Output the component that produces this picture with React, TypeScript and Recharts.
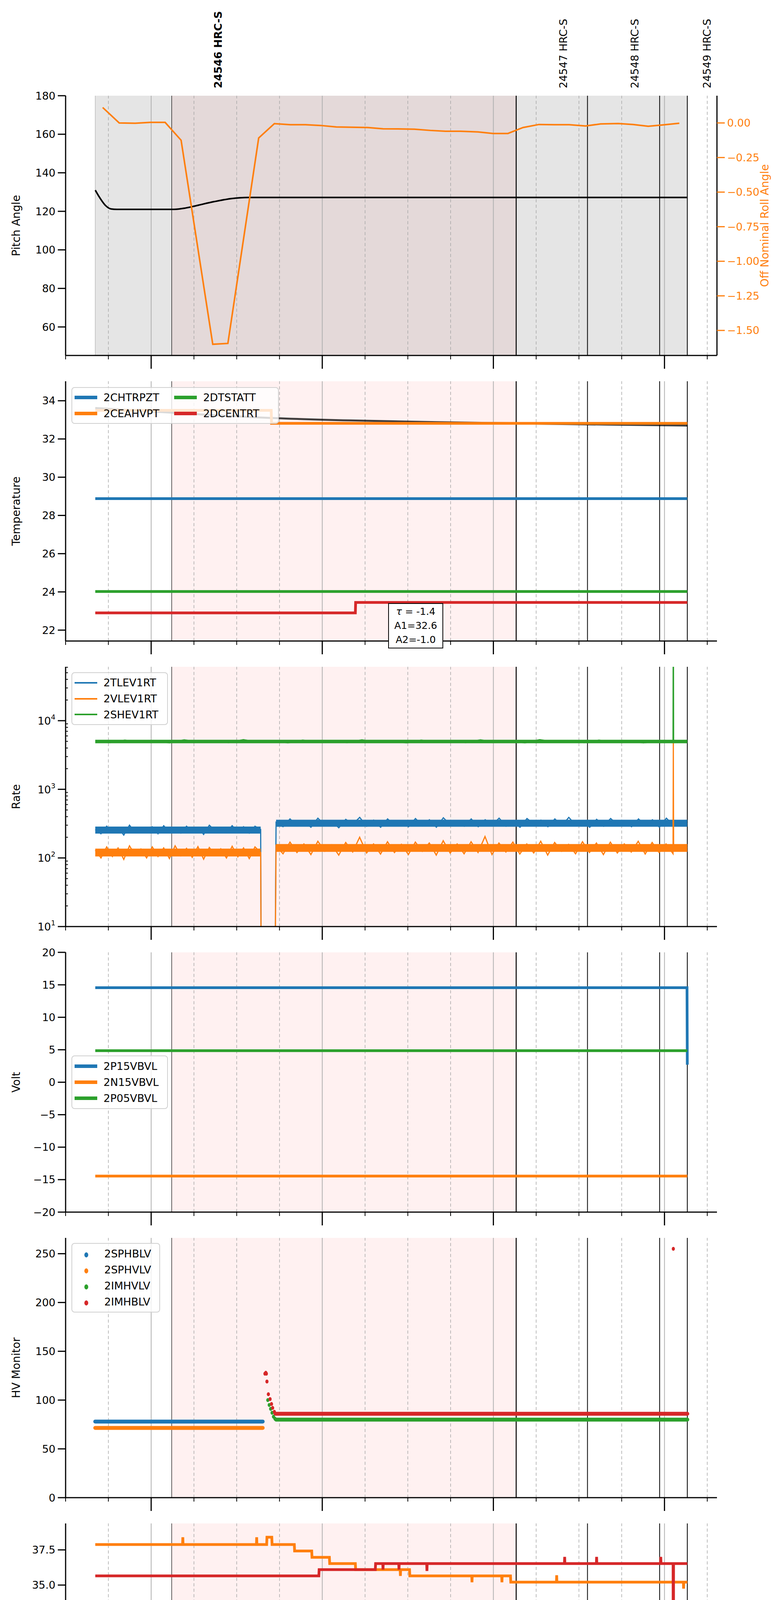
import React from 'react';
import { LineChart, Line, XAxis, YAxis, ReferenceArea, ReferenceLine, Scatter } from 'recharts';

const FONT = 'DejaVu Sans, sans-serif';
const C = { blue: '#1f77b4', orange: '#ff7f0e', green: '#2ca02c', red: '#d62728' };
const X_DOMAIN = [0, 228.4];
const X_TICKS = [0, 15, 30, 45, 60, 75, 90, 105, 120, 135, 150, 165, 180, 195, 210, 225];
const HOUR_LABELS: Record<number, string> = { 30: '20h', 90: '21h', 150: '22h', 210: '23h' };
const OBS_LINES = [158, 183, 208.3, 218];
const OBS_START = 37.2;
const DATA_START = 10.4;
const DATA_END = 218;
const OBSIDS = [
  { t: 53.4, label: '24546 HRC-S', bold: true },
  { t: 174.5, label: '24547 HRC-S', bold: false },
  { t: 199.5, label: '24548 HRC-S', bold: false },
  { t: 224.8, label: '24549 HRC-S', bold: false },
];

// Panel 1
const PITCH: [number, number][] = [[10.4, 131], [12, 127], [14, 123], [16, 121.2], [18, 121], [38, 121], [42, 121.7], [46, 123], [52, 125], [58, 126.6], [64, 127.2], [218, 127.2]];
const ROLL: [number, number][] = [[13.0, 0.112], [18.8, 0], [24.4, -0.002], [29.7, 0.004], [34.9, 0.004], [40.5, -0.125], [51.6, -1.6], [56.9, -1.594], [67.7, -0.109], [73.2, -0.005], [78.8, -0.013], [84.1, -0.013], [89.3, -0.018], [94.9, -0.029], [106.0, -0.033], [111.3, -0.042], [116.5, -0.043], [122.3, -0.045], [127.9, -0.054], [133.2, -0.06], [138.5, -0.06], [144.6, -0.065], [149.9, -0.076], [155.1, -0.076], [160.4, -0.033], [166.0, -0.011], [171.3, -0.013], [176.6, -0.013], [182.3, -0.022], [187.6, -0.007], [193.8, -0.004], [199.0, -0.011], [204.3, -0.024], [209.5, -0.014], [215.2, -0.002]];

// Panel 2
const CHTRPZT: [number, number][] = [[10.4, 28.88], [218, 28.88]];
const DTSTATT: [number, number][] = [[10.4, 24.02], [218, 24.02]];
const DCENTRT: [number, number][] = [[10.4, 22.9], [101.6, 22.9], [101.7, 23.45], [218, 23.45]];
const CEAHVPT: [number, number][] = [[10.4, 33.5], [72.1, 33.5], [72.2, 32.82], [218, 32.82]];
const FIT: [number, number][] = [[10.4, 33.62], [40, 33.35], [72, 33.1], [100, 32.97], [130, 32.88], [158, 32.82], [190, 32.75], [218, 32.7]];

// Panel 3 (rates, hand-read noise)
const TL_PRE = [260, 225, 290, 240, 275, 215, 300, 235, 270, 250, 285, 225, 295, 240, 265, 230, 290, 245, 280, 220, 300, 250, 275, 235, 295, 240, 285, 230, 290, 260];
const TL_POST = [330, 285, 370, 295, 350, 280, 380, 300, 345, 275, 365, 310, 390, 290, 355, 280, 370, 300, 340, 285, 375, 295, 360, 280, 385, 305, 350, 290, 370, 285, 360, 300, 380, 290, 345, 280, 375, 310, 355, 285, 370, 295, 390, 300, 350, 280, 365, 290, 375, 305, 345, 285, 370, 295, 360, 280, 380, 300, 350, 310];
const VL_PRE = [130, 100, 145, 105, 140, 95, 150, 110, 135, 100, 145, 105, 140, 98, 150, 108, 138, 102, 146, 96, 142, 110, 136, 100, 148, 104, 140, 98, 145, 120];
const VL_POST = [150, 115, 170, 120, 160, 112, 175, 125, 155, 110, 168, 122, 200, 118, 160, 114, 172, 120, 158, 112, 170, 125, 165, 110, 178, 118, 160, 115, 172, 120, 205, 112, 165, 122, 170, 114, 160, 118, 175, 110, 168, 125, 158, 115, 172, 120, 165, 112, 170, 118, 160, 122, 175, 114, 168, 120, 160, 115, 170, 140];
const SH_VALS = [5000, 4800, 5200, 4850, 5150, 4750, 5250, 4900, 5100, 4800, 5300, 4850, 5150, 4750, 5200, 4900, 5050, 4800, 5250, 4850, 5100, 4750, 5200, 4900, 5150, 4800, 5250, 4850, 5100, 4750, 5300, 4900, 5150, 4800, 5200, 4850, 5100, 4750, 5050, 5000];
// band centres of the noisy rates
const TL_BAND: [number, number][] = [[10.4, 255], [68.4, 255]];
const TL_BAND2: [number, number][] = [[73.8, 320], [218, 320]];
const VL_BAND: [number, number][] = [[10.4, 120], [68.4, 120]];
const VL_BAND2: [number, number][] = [[73.8, 140], [218, 140]];
const SH_BAND: [number, number][] = [[10.4, 4980], [218, 4980]];
const RATE_TICKS = [10, 20, 30, 40, 50, 60, 70, 80, 90, 100, 200, 300, 400, 500, 600, 700, 800, 900, 1000, 2000, 3000, 4000, 5000, 6000, 7000, 8000, 9000, 10000, 20000, 30000, 40000, 50000, 60000];

// Panel 4
const P15: [number, number][] = [[10.4, 14.55], [217.9, 14.55], [218, 2.7]];
const N15: [number, number][] = [[10.4, -14.45], [218, -14.45]];
const P05: [number, number][] = [[10.4, 4.85], [218, 4.85]];

// Panel 5
const SPHBLV: [number, number][] = [[10.4, 78], [69.1, 78]];
const SPHVLV: [number, number][] = [[10.4, 71.5], [69.1, 71.5]];
const IMHVLV_BAND: [number, number][] = [[73.8, 80], [218, 80]];
const IMHVLV_PTS: [number, number][] = [[70.9, 100], [71.4, 95], [71.9, 91], [72.4, 87], [72.9, 83], [73.4, 81]];
const IMHBLV_BAND: [number, number][] = [[73.6, 86], [218, 86]];
const IMHBLV_PTS: [number, number][] = [[69.9, 127], [70.2, 128], [70.4, 127], [70.6, 119], [71.1, 106], [71.7, 101], [72.2, 96], [72.6, 92], [73.2, 88], [213.1, 255]];

// Panel 6
const SPINATM: [number, number][] = [[10.4, 22.4], [218, 22.4]];
const IMINATM: [number, number][] = [[10.4, 23.13], [218, 23.13]];
const SPHVATM_STEPS: [number, number][] = [[10.4, 37.88], [70.5, 37.88], [70.6, 38.4], [72.3, 38.4], [72.4, 37.88], [80.2, 37.88], [80.3, 37.42], [86.3, 37.42], [86.4, 36.97], [92.5, 36.97], [92.6, 36.53], [101.6, 36.53], [101.7, 36.1], [120.6, 36.1], [120.7, 35.65], [156.0, 35.65], [156.1, 35.21], [218, 35.21]];
const SPHVATM_SPIKES: [number, number][] = [[41.1, 38.4], [67.0, 38.4], [117.4, 35.65], [142.5, 35.2], [153.0, 35.2], [172.2, 35.7], [216.7, 34.75]];
const IMHVATM_STEPS: [number, number][] = [[10.4, 35.65], [88.8, 35.65], [88.9, 36.1], [108.6, 36.1], [108.7, 36.53], [218, 36.53]];
const IMHVATM_SPIKES: [number, number][] = [[111.3, 36.1], [116.9, 36.1], [126.7, 36.0], [175.0, 37.0], [186.2, 37.0], [208.7, 37.0], [213.1, 10]];

// Panel 7
const FHTRMZT: [number, number][] = [[10.4, 27.0], [131.4, 27.0], [131.8, 26.4], [134.5, 26.4], [134.9, 27.0], [135.3, 26.4], [218, 26.4]];
const FRADPYT: [number, number][] = [[10.4, 22.36], [44.9, 22.36], [45.0, 21.8], [218, 21.8]];
const FEPRATM: [number, number][] = [[10.4, 27.76], [213.0, 27.76], [213.1, 10], [213.2, 27.76], [218, 27.76]];
const FE00_STEPS: [number, number][] = [[10.4, 25.96], [51.6, 25.96], [51.7, 25.63], [218, 25.63]];
const FE00_SPIKES: [number, number][] = [[10.9, 25.6], [16.5, 25.6], [21.2, 25.6], [23.3, 24.95], [26.5, 25.6], [32.6, 26.7], [36.0, 26.35], [39.8, 24.95], [42.8, 25.3], [47.4, 25.3], [55.6, 26.0], [59.5, 26.0], [62.1, 26.0], [81.8, 26.35], [87.2, 26.35], [125.8, 26.0], [136.2, 26.0], [145.7, 26.35], [155.8, 26.7], [170.1, 25.3], [175.9, 26.35], [178.1, 25.3], [184.6, 25.3], [186.4, 24.6], [194.5, 25.3], [198.1, 24.95], [206.0, 26.0], [207.6, 24.6], [213.1, 10]];

const pts = (a: [number, number][]) => a.map(([t, v]) => ({ t, v }));
const spread = (t0: number, t1: number, vals: number[]) => vals.map((v, i) => ({ t: t0 + ((t1 - t0) * i) / (vals.length - 1), v }));
const withSpikes = (steps: [number, number][], spikes: [number, number][]) => {
  const base = (t: number) => { let v = steps[0][1]; for (const [tt, vv] of steps) if (tt <= t) v = vv; return v; };
  const all = [...steps.map(([t, v]) => ({ t, v }))];
  spikes.forEach(([t, v]) => { const b = base(t); all.push({ t: t - 0.08, v: b }, { t, v }, { t: t + 0.08, v: b }); });
  return all.sort((a, b) => a.t - b.t);
};

const TL_DATA = [...spread(10.4, 68.4, TL_PRE), { t: 68.6, v: 1 }, { t: 73.4, v: 1 }, ...spread(73.8, 218, TL_POST)];
const VL_DATA = [...spread(10.4, 68.4, VL_PRE), { t: 68.6, v: 1 }, { t: 73.4, v: 1 }, ...spread(73.8, 213.0, VL_POST.slice(0, 58)), { t: 213.1, v: 5000 }, { t: 213.2, v: 150 }, { t: 218, v: 140 }];
const SH_DATA = [...spread(10.4, 213.0, SH_VALS), { t: 213.1, v: 1e6 }, { t: 213.2, v: 5000 }, { t: 218, v: 4950 }];

const XTick = (props: any) => {
  const { x, y, payload, labels } = props;
  const t = payload.value;
  const hour = HOUR_LABELS[t] !== undefined;
  return (
    <g>
      <line x1={x} x2={x} y1={y} y2={y + (hour ? 34 : 10)} stroke="#000" strokeWidth={hour ? 3 : 2} />
      {labels && (hour
        ? <text x={x} y={y + 66} textAnchor="middle" fontSize={28} fontFamily={FONT}>{HOUR_LABELS[t]}</text>
        : <text x={x} y={y + 30} textAnchor="middle" fontSize={18} fontFamily={FONT}>{(30 + t) % 60}</text>)}
    </g>
  );
};

const LogTick = (props: any) => {
  const { x, y, payload } = props;
  const v = payload.value;
  const e = Math.log10(v);
  const major = Math.abs(e - Math.round(e)) < 1e-9;
  return (
    <g>
      {major
        ? <line x1={x - 20} x2={x} y1={y} y2={y} stroke="#000" strokeWidth={3} />
        : <line x1={x} x2={x + 6} y1={y} y2={y} stroke="#000" strokeWidth={2} />}
      {major && <text x={x - 26} y={y + 10} textAnchor="end" fontSize={27} fontFamily={FONT}>10<tspan dy={-13} fontSize={18}>{Math.round(e)}</tspan></text>}
    </g>
  );
};

function background(panel1: boolean) {
  const els: any[] = [];
  if (panel1) els.push(<ReferenceArea key="gray" x1={DATA_START} x2={DATA_END} fill="#e5e5e5" fillOpacity={1} stroke="none" />);
  els.push(<ReferenceArea key="pink" x1={OBS_START} x2={OBS_LINES[0]} fill={panel1 ? '#e4d9d9' : '#fff1f1'} fillOpacity={1} stroke="none" />);
  X_TICKS.forEach((t) => {
    const hour = HOUR_LABELS[t] !== undefined;
    els.push(<ReferenceLine key={'g' + t} x={t} stroke={hour ? '#b0b0b0' : '#a8a8a8'} strokeWidth={hour ? 2 : 1.5} strokeDasharray={hour ? undefined : '8 6'} />);
  });
  if (panel1) els.push(<ReferenceLine key="ds" x={DATA_START} stroke="#c8c8c8" strokeWidth={2} />);
  els.push(<ReferenceLine key="os" x={OBS_START} stroke="#000" strokeWidth={1.2} />);
  OBS_LINES.forEach((t, i) => els.push(<ReferenceLine key={'o' + t} x={t} stroke="#000" strokeWidth={i === 0 ? 2.5 : 2} />));
  return els;
}

const yLabel = (text: string, color = '#000', xPos = 51) => ({
  content: (p: any) => {
    const vb = p.viewBox;
    const cy = vb.y + vb.height / 2;
    return <text x={xPos} y={cy} transform={`rotate(-90 ${xPos} ${cy})`} textAnchor="middle" fontSize={28} fontFamily={FONT} fill={color}>{text}</text>;
  },
});

type LegendItem = { name: string; color: string; dot?: boolean; thin?: boolean };
const LegendBox = ({ items, left, top, width, height, cols = 1 }: { items: LegendItem[]; left: number; top: number; width: number; height: number; cols?: number }) => (
  <div style={{ position: 'absolute', left, top, width, height, boxSizing: 'border-box', background: 'rgba(255,255,255,0.8)', border: '2px solid #d0d0d0', borderRadius: 8, display: 'grid', gridTemplateColumns: `repeat(${cols}, auto)`, gridAutoFlow: cols > 1 ? 'column' : 'row', gridTemplateRows: cols > 1 ? `repeat(${Math.ceil(items.length / cols)}, 1fr)` : undefined, alignContent: 'space-evenly', padding: '4px 10px 4px 6px', fontFamily: FONT, fontSize: 27, zIndex: 5 }}>
    {items.map((it) => (
      <div key={it.name} style={{ display: 'flex', alignItems: 'center', height: 40 }}>
        {it.dot
          ? <span style={{ display: 'inline-block', width: 60, textAlign: 'center' }}><span style={{ display: 'inline-block', width: 10, height: 13, borderRadius: '50%', background: it.color }} /></span>
          : <span style={{ display: 'inline-block', width: 58, height: it.thin ? 4 : 9, background: it.color }} />}
        <span style={{ marginLeft: 16 }}>{it.name}</span>
      </div>
    ))}
  </div>
);

const PLOT_H = 665;
const Panel = ({ top, marginTop = 20, axisH = 45, bottomLabels = false, right = false, children }: any) => (
  <div style={{ position: 'absolute', left: 0, top: top - marginTop }}>
    <LineChart width={2000} height={marginTop + PLOT_H + axisH} margin={{ top: marginTop, right: right ? 0 : 164, left: 0, bottom: 0 }}>
      <XAxis dataKey="t" type="number" domain={X_DOMAIN} allowDataOverflow ticks={X_TICKS} interval={0} height={axisH} tickSize={0} tickMargin={0} tickLine={false} axisLine={{ stroke: '#000', strokeWidth: 3 }} tick={<XTick labels={bottomLabels} />} />
      <XAxis xAxisId="top" orientation="top" dataKey="t" type="number" domain={X_DOMAIN} height={0} tick={false} tickLine={false} axisLine={{ stroke: '#000', strokeWidth: 3 }} />
      {children}
    </LineChart>
  </div>
);

const yAxisCommon = { width: 168, tickSize: 20, tickMargin: 6, tick: { fontSize: 27, fontFamily: FONT, fill: '#000' }, tickLine: { stroke: '#000', strokeWidth: 3 }, axisLine: { stroke: '#000', strokeWidth: 3 }, allowDataOverflow: true };
const rightFrame = <YAxis key="rf" yAxisId="rf" orientation="right" width={0} tick={false} tickLine={false} axisLine={{ stroke: '#000', strokeWidth: 3 }} />;

export default function App() {
  const lw = 7;
  return (
    <div style={{ position: 'relative', marginLeft: -8, marginTop: -8, width: 2000, height: 5400, background: '#fff', fontFamily: FONT }}>
      {/* Panel 1 */}
      <Panel top={245} marginTop={245} right>
        <YAxis yAxisId="p" {...yAxisCommon} domain={[45.2, 180]} ticks={[60, 80, 100, 120, 140, 160, 180]} label={yLabel('Pitch Angle')} />
        <YAxis yAxisId="r" orientation="right" {...yAxisCommon} width={164} domain={[-1.681, 0.197]} ticks={[0, -0.25, -0.5, -0.75, -1, -1.25, -1.5]} tickFormatter={(v: number) => v.toFixed(2).replace('-', '\u2212')} tick={{ fontSize: 27, fontFamily: FONT, fill: C.orange }} tickLine={{ stroke: C.orange, strokeWidth: 3 }} label={yLabel('Off Nominal Roll Angle', C.orange, 1968)} />
        {background(true).map((e) => React.cloneElement(e, { yAxisId: 'p' }))}
        {OBSIDS.map((o) => (
          <ReferenceLine key={o.label} yAxisId="p" x={o.t} stroke="none" label={{ content: (p: any) => <text transform={`translate(${p.viewBox.x + 10},${p.viewBox.y - 19}) rotate(-90)`} fontSize={27} fontWeight={o.bold ? 'bold' : 'normal'} fontFamily={FONT}>{o.label}</text> }} />
        ))}
        <Line yAxisId="p" data={pts(PITCH)} dataKey="v" stroke="#000" strokeWidth={4} dot={false} isAnimationActive={false} type="monotone" />
        <Line yAxisId="r" data={pts(ROLL)} dataKey="v" stroke={C.orange} strokeWidth={4} dot={false} isAnimationActive={false} />
      </Panel>

      {/* Panel 2 */}
      <Panel top={976}>
        <YAxis {...yAxisCommon} domain={[21.43, 35.02]} ticks={[22, 24, 26, 28, 30, 32, 34]} label={yLabel('Temperature')} />
        {rightFrame}
        {background(false)}
        <Line data={pts(FIT)} dataKey="v" stroke="#000" strokeWidth={5} strokeOpacity={0.75} dot={false} isAnimationActive={false} type="monotone" />
        <Line data={pts(CHTRPZT)} dataKey="v" stroke={C.blue} strokeWidth={lw} dot={false} isAnimationActive={false} />
        <Line data={pts(CEAHVPT)} dataKey="v" stroke={C.orange} strokeWidth={lw} dot={false} isAnimationActive={false} />
        <Line data={pts(DTSTATT)} dataKey="v" stroke={C.green} strokeWidth={lw} dot={false} isAnimationActive={false} />
        <Line data={pts(DCENTRT)} dataKey="v" stroke={C.red} strokeWidth={lw} dot={false} isAnimationActive={false} />
      </Panel>
      <LegendBox left={183} top={991} width={531} height={94} cols={2} items={[{ name: '2CHTRPZT', color: C.blue }, { name: '2CEAHVPT', color: C.orange }, { name: '2DTSTATT', color: C.green }, { name: '2DCENTRT', color: C.red }]} />
      <div style={{ position: 'absolute', left: 994, top: 1544, width: 141, height: 116, boxSizing: 'border-box', border: '2px solid #000', background: '#fff', fontSize: 25, lineHeight: '36px', textAlign: 'center', paddingTop: 2, zIndex: 6 }}>
        <div><i>τ</i> = -1.4</div><div>A1=32.6</div><div>A2=-1.0</div>
      </div>

      {/* Panel 3 */}
      <Panel top={1707}>
        <YAxis {...yAxisCommon} scale="log" domain={[10, 61000]} ticks={RATE_TICKS} interval={0} tickSize={0} tickMargin={0} tickLine={false} tick={<LogTick />} label={yLabel('Rate')} />
        {rightFrame}
        {background(false)}
        <Line data={pts(TL_BAND)} dataKey="v" stroke={C.blue} strokeWidth={18} dot={false} isAnimationActive={false} />
        <Line data={pts(TL_BAND2)} dataKey="v" stroke={C.blue} strokeWidth={18} dot={false} isAnimationActive={false} />
        <Line data={TL_DATA} dataKey="v" stroke={C.blue} strokeWidth={3} dot={false} isAnimationActive={false} />
        <Line data={pts(VL_BAND)} dataKey="v" stroke={C.orange} strokeWidth={20} dot={false} isAnimationActive={false} />
        <Line data={pts(VL_BAND2)} dataKey="v" stroke={C.orange} strokeWidth={20} dot={false} isAnimationActive={false} />
        <Line data={VL_DATA} dataKey="v" stroke={C.orange} strokeWidth={3} dot={false} isAnimationActive={false} />
        <Line data={pts(SH_BAND)} dataKey="v" stroke={C.green} strokeWidth={9} dot={false} isAnimationActive={false} />
        <Line data={SH_DATA} dataKey="v" stroke={C.green} strokeWidth={3} dot={false} isAnimationActive={false} />
      </Panel>
      <LegendBox left={183} top={1721} width={247} height={135} items={[{ name: '2TLEV1RT', color: C.blue, thin: true }, { name: '2VLEV1RT', color: C.orange, thin: true }, { name: '2SHEV1RT', color: C.green, thin: true }]} />

      {/* Panel 4 */}
      <Panel top={2438}>
        <YAxis {...yAxisCommon} domain={[-20, 20]} ticks={[-20, -15, -10, -5, 0, 5, 10, 15, 20]} tickFormatter={(v: number) => String(v).replace('-', '\u2212')} label={yLabel('Volt')} />
        {rightFrame}
        {background(false)}
        <Line data={pts(P15)} dataKey="v" stroke={C.blue} strokeWidth={lw} dot={false} isAnimationActive={false} />
        <Line data={pts(N15)} dataKey="v" stroke={C.orange} strokeWidth={lw} dot={false} isAnimationActive={false} />
        <Line data={pts(P05)} dataKey="v" stroke={C.green} strokeWidth={lw} dot={false} isAnimationActive={false} />
      </Panel>
      <LegendBox left={183} top={2702} width={247} height={137} items={[{ name: '2P15VBVL', color: C.blue }, { name: '2N15VBVL', color: C.orange }, { name: '2P05VBVL', color: C.green }]} />

      {/* Panel 5 */}
      <Panel top={3169}>
        <YAxis {...yAxisCommon} domain={[0, 266.2]} ticks={[0, 50, 100, 150, 200, 250]} label={yLabel('HV Monitor')} />
        {rightFrame}
        {background(false)}
        <Line data={pts(SPHBLV)} dataKey="v" stroke={C.blue} strokeWidth={10} strokeLinecap="round" dot={false} isAnimationActive={false} />
        <Line data={pts(SPHVLV)} dataKey="v" stroke={C.orange} strokeWidth={10} strokeLinecap="round" dot={false} isAnimationActive={false} />
        <Line data={pts(IMHVLV_BAND)} dataKey="v" stroke={C.green} strokeWidth={10} strokeLinecap="round" dot={false} isAnimationActive={false} />
        <Scatter data={pts(IMHVLV_PTS)} dataKey="v" fill={C.green} shape={(p: any) => <ellipse cx={p.cx} cy={p.cy} rx={4} ry={5} fill={C.green} />} isAnimationActive={false} />
        <Line data={pts(IMHBLV_BAND)} dataKey="v" stroke={C.red} strokeWidth={10} strokeLinecap="round" dot={false} isAnimationActive={false} />
        <Scatter data={pts(IMHBLV_PTS)} dataKey="v" fill={C.red} shape={(p: any) => <ellipse cx={p.cx} cy={p.cy} rx={4} ry={5} fill={C.red} />} isAnimationActive={false} />
      </Panel>
      <LegendBox left={183} top={3182} width={227} height={178} items={[{ name: '2SPHBLV', color: C.blue, dot: true }, { name: '2SPHVLV', color: C.orange, dot: true }, { name: '2IMHVLV', color: C.green, dot: true }, { name: '2IMHBLV', color: C.red, dot: true }]} />

      {/* Panel 6 */}
      <Panel top={3900}>
        <YAxis {...yAxisCommon} domain={[20.92, 39.38]} ticks={[22.5, 25, 27.5, 30, 32.5, 35, 37.5]} tickFormatter={(v: number) => v.toFixed(1)} label={yLabel('Detector Temp')} />
        {rightFrame}
        {background(false)}
        <Line data={pts(SPINATM)} dataKey="v" stroke={C.blue} strokeWidth={lw} dot={false} isAnimationActive={false} />
        <Line data={withSpikes(SPHVATM_STEPS, SPHVATM_SPIKES)} dataKey="v" stroke={C.orange} strokeWidth={lw} dot={false} isAnimationActive={false} />
        <Line data={pts(IMINATM)} dataKey="v" stroke={C.green} strokeWidth={lw} dot={false} isAnimationActive={false} />
        <Line data={withSpikes(IMHVATM_STEPS, IMHVATM_SPIKES)} dataKey="v" stroke={C.red} strokeWidth={lw} dot={false} isAnimationActive={false} />
      </Panel>
      <LegendBox left={183} top={4143} width={250} height={178} items={[{ name: '2SPINATM', color: C.blue }, { name: '2SPHVATM', color: C.orange }, { name: '2IMINATM', color: C.green }, { name: '2IMHVATM', color: C.red }]} />

      {/* Panel 7 */}
      <Panel top={4630} axisH={130} bottomLabels>
        <YAxis {...yAxisCommon} domain={[20.31, 29.26]} ticks={[21, 22, 23, 24, 25, 26, 27, 28, 29]} label={yLabel('FEA Temp')} />
        {rightFrame}
        {background(false)}
        <Line data={pts(FHTRMZT)} dataKey="v" stroke={C.blue} strokeWidth={lw} dot={false} isAnimationActive={false} />
        <Line data={pts(FRADPYT)} dataKey="v" stroke={C.orange} strokeWidth={lw} dot={false} isAnimationActive={false} />
        <Line data={pts(FEPRATM)} dataKey="v" stroke={C.green} strokeWidth={lw} dot={false} isAnimationActive={false} />
        <Line data={withSpikes(FE00_STEPS, FE00_SPIKES)} dataKey="v" stroke={C.red} strokeWidth={lw} dot={false} isAnimationActive={false} />
      </Panel>
      <LegendBox left={183} top={5104} width={253} height={178} items={[{ name: '2FHTRMZT', color: C.blue }, { name: '2FRADPYT', color: C.orange }, { name: '2FEPRATM', color: C.green }, { name: '2FE00ATM', color: C.red }]} />
      <div style={{ position: 'absolute', left: 0, width: 2002, top: 5366, textAlign: 'center', fontSize: 30 }}>2021-09-09 (252)</div>
    </div>
  );
}
